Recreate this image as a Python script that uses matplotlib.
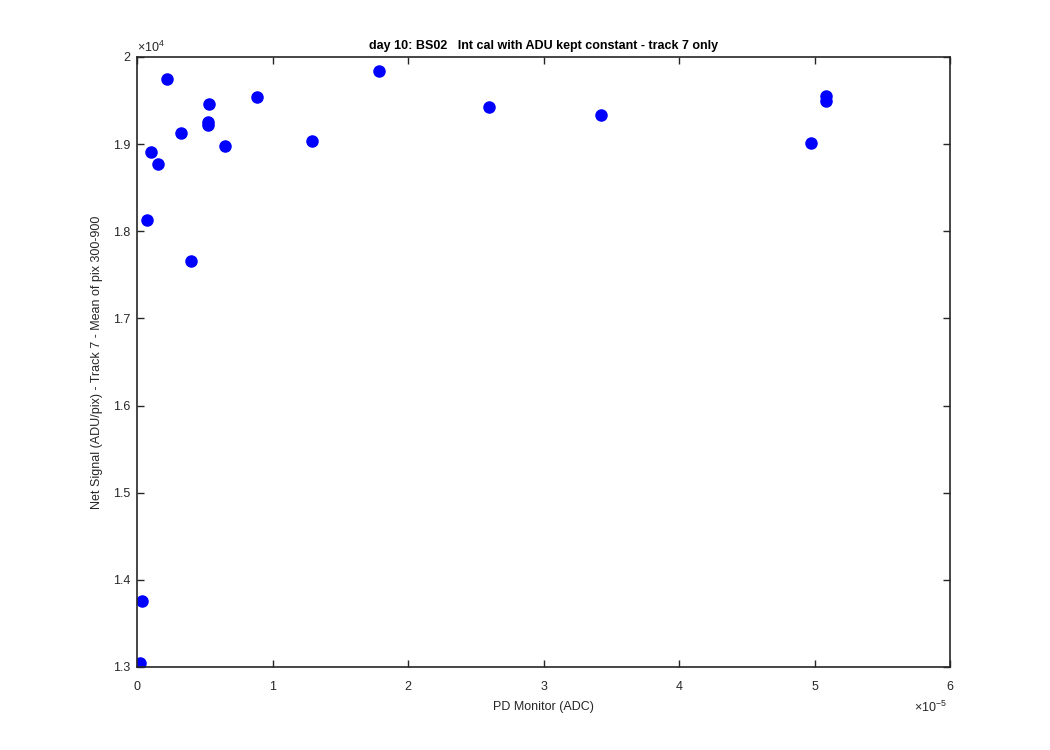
import matplotlib
matplotlib.use('Agg')
import matplotlib.pyplot as plt
from matplotlib.ticker import FuncFormatter
import numpy as np

# PD monitor reading (ADC) and net signal (ADU/pix)
pd_monitor = np.array([0.022, 0.037, 0.074, 0.103, 0.157, 0.222, 0.325, 0.399,
                       0.531, 0.524, 0.524, 0.652, 0.886, 1.292, 1.786, 2.598,
                       3.424, 4.974, 5.084, 5.086]) * 1e-5
net_signal = np.array([13046, 13757, 18126, 18905, 18768, 19746, 19133, 17659,
                       19457, 19254, 19214, 18977, 19545, 19039, 19843, 19428,
                       19330, 19008, 19549, 19490])

x_ticks = [0, 1e-5, 2e-5, 3e-5, 4e-5, 5e-5, 6e-5]
y_ticks = [13000, 14000, 15000, 16000, 17000, 18000, 19000, 20000]

plt.rcParams['font.family'] = ['Liberation Sans', 'DejaVu Sans']
plt.rcParams['mathtext.default'] = 'regular'
axis_color = (0.15, 0.15, 0.15)

fig = plt.figure(figsize=(10.5, 7.5), dpi=100)
ax = fig.add_axes([0.1305, 0.1107, 0.7743, 0.8133])
ax.plot(pd_monitor, net_signal, 'o', color='blue', markersize=8)

ax.set_xlim(0, 6e-5)
ax.set_ylim(13000, 20000)
ax.set_xticks(x_ticks)
ax.set_yticks(y_ticks)
ax.xaxis.set_major_formatter(FuncFormatter(lambda v, p: '%g' % round(v / 1e-5, 6)))
ax.yaxis.set_major_formatter(FuncFormatter(lambda v, p: '%g' % round(v / 1e4, 6)))
ax.tick_params(direction='in', top=True, right=True, length=5, width=1,
               labelsize=9, colors=axis_color)
ax.tick_params(axis='x', pad=10)
ax.tick_params(axis='y', pad=5)
for s in ax.spines.values():
    s.set_color(axis_color)
    s.set_linewidth(1.2)

# MATLAB-style exponent labels
ax.text(0.0, 1.004, r'$\times10^{4}$', transform=ax.transAxes, fontsize=9,
        color=axis_color, ha='left', va='bottom')
ax.text(0.996, -0.053, r'$\times10^{-5}$', transform=ax.transAxes, fontsize=9,
        color=axis_color, ha='right', va='top')

ax.set_xlabel('PD Monitor (ADC)', fontsize=9, color=axis_color, labelpad=6)
ax.set_ylabel('Net Signal (ADU/pix) - Track 7 - Mean of pix 300-900', fontsize=9,
              color=axis_color, labelpad=7)
ax.set_title('day 10: BS02   Int cal with ADU kept constant - track 7 only',
             fontsize=9, fontweight='bold', pad=6)

fig.savefig('out.png', dpi=100)
